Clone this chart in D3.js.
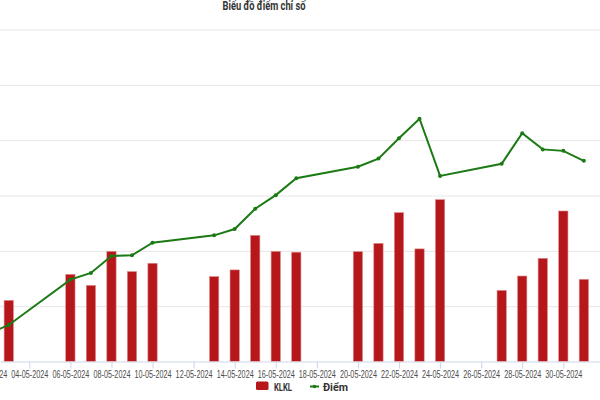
<!DOCTYPE html>
<html>

<style>
body { margin: 0; background: #fff; }
svg { display: block; font-family: "Roboto", "DejaVu Sans Condensed", sans-serif; }
.grid line { stroke: #e6e6e6; stroke-width: 1; }
.grid .domain { display: none; }
.x-axis .domain, .x-axis line { stroke: #ccd6eb; }
.x-axis text { fill: #4d4d4d; font-size: 10px; }
.bar { fill: #b5171b; stroke: #e08a8a; stroke-width: 0.6; }
.line { fill: none; stroke: #1b7a14; stroke-width: 2; }
.dot { fill: #1b7a14; }
</style>

<head>
  <script src="https://d3js.org/d3.v7.min.js"></script>
</head>

<body>

<div id="chart"></div>

<script>
// trading days in May 2024
var dates = ["2024-05-02", "2024-05-03", "2024-05-06", "2024-05-07", "2024-05-08",
  "2024-05-09", "2024-05-10", "2024-05-13", "2024-05-14", "2024-05-15",
  "2024-05-16", "2024-05-17", "2024-05-20", "2024-05-21", "2024-05-22",
  "2024-05-23", "2024-05-24", "2024-05-27", "2024-05-28", "2024-05-29",
  "2024-05-30", "2024-05-31"];

// KLKL (khoi luong khop lenh)
var klkl = [210, 221, 315, 275, 398, 325, 355, 307, 331, 456, 398, 395,
  397, 427, 538, 407, 585, 257, 309, 373, 544, 297];

// Diem chi so
var diem = [1222.5, 1224.9, 1237.2, 1239.0, 1243.6, 1243.8, 1247.2, 1249.2,
  1250.9, 1256.4, 1260.1, 1264.7, 1267.8, 1270.0, 1275.5, 1280.8, 1265.3,
  1268.6, 1276.9, 1272.5, 1272.1, 1269.4];

var tickDates = ["2024-05-02", "2024-05-04", "2024-05-06", "2024-05-08", "2024-05-10",
  "2024-05-12", "2024-05-14", "2024-05-16", "2024-05-18", "2024-05-20",
  "2024-05-22", "2024-05-24", "2024-05-26", "2024-05-28", "2024-05-30"];

var volTicks = [0, 200, 400, 600, 800, 1000, 1200];
var diemDomain = [1215, 1305];

var W = 600, H = 400;
var plotTop = 29.5, plotBottom = 361.5;

var parse = d3.utcParse("%Y-%m-%d");
var fmt = d3.utcFormat("%d-%m-%Y");

var data = dates.map(function(d, i) {
  return { date: parse(d), klkl: klkl[i], diem: diem[i] };
});

var svg = d3.select("#chart")
  .append("svg")
    .attr("width", W)
    .attr("height", H);

// x: the visible window starts a bit after 02-05 and ends after 31-05
var x = d3.scaleUtc()
    .domain([parse("2024-05-04"), parse("2024-05-30")])
    .range([29.3, 563.3]);
x.domain([x.invert(0), x.invert(W)]).range([0, W]);

var yVol = d3.scaleLinear()
    .domain([0, 1200])
    .range([plotBottom, plotTop]);

var yDiem = d3.scaleLinear()
    .domain(diemDomain)
    .range([plotBottom, plotTop]);

svg.append("defs").append("clipPath")
    .attr("id", "plot")
  .append("rect")
    .attr("x", 0).attr("y", 0)
    .attr("width", W).attr("height", plotBottom + 1);

// gridlines
svg.append("g")
    .attr("class", "grid")
    .call(d3.axisLeft(yVol).tickValues(volTicks.slice(1)).tickSize(-W).tickFormat(""));

// bars
var bw = 9.3;
svg.append("g")
    .attr("clip-path", "url(#plot)")
  .selectAll(".bar")
    .data(data)
  .enter().append("rect")
    .attr("class", "bar")
    .attr("x", function(d) { return x(d.date) - bw / 2; })
    .attr("y", function(d) { return yVol(d.klkl); })
    .attr("width", bw)
    .attr("height", function(d) { return plotBottom - yVol(d.klkl); });

// x axis
svg.append("g")
    .attr("class", "x-axis")
    .attr("transform", "translate(0," + plotBottom + ")")
    .call(d3.axisBottom(x)
      .tickValues(tickDates.map(parse))
      .tickSize(7)
      .tickSizeOuter(0)
      .tickPadding(2)
      .tickFormat(fmt))
  .selectAll("text")
    .attr("textLength", 37)
    .attr("lengthAdjust", "spacingAndGlyphs");

// line
var line = d3.line()
    .x(function(d) { return x(d.date); })
    .y(function(d) { return yDiem(d.diem); });

var gl = svg.append("g").attr("clip-path", "url(#plot)");

gl.append("path")
    .datum(data)
    .attr("class", "line")
    .attr("d", line);

gl.selectAll(".dot")
    .data(data)
  .enter().append("circle")
    .attr("class", "dot")
    .attr("cx", function(d) { return x(d.date); })
    .attr("cy", function(d) { return yDiem(d.diem); })
    .attr("r", 2);

// title
svg.append("text")
    .attr("x", 264)
    .attr("y", 9.5)
    .attr("text-anchor", "middle")
    .attr("fill", "#333")
    .attr("textLength", 83)
    .attr("lengthAdjust", "spacingAndGlyphs")
    .style("font-size", "13px")
    .style("font-weight", "bold")
    .text("Biểu đồ điểm chỉ số");

// legend
var lg = svg.append("g").attr("transform", "translate(256,386)");
lg.append("rect")
    .attr("x", 0).attr("y", -4.5)
    .attr("width", 12.5).attr("height", 8.5)
    .attr("rx", 1.5)
    .attr("fill", "#b5171b");
lg.append("text")
    .attr("x", 18).attr("y", 4.5)
    .attr("fill", "#333")
    .attr("textLength", 18)
    .attr("lengthAdjust", "spacingAndGlyphs")
    .style("font-size", "11px")
    .style("font-weight", "bold")
    .text("KLKL");
lg.append("line")
    .attr("x1", 54).attr("x2", 63).attr("y1", 0.5).attr("y2", 0.5)
    .attr("stroke", "#1b7a14").attr("stroke-width", 2);
lg.append("circle")
    .attr("cx", 58.5).attr("cy", 0.5).attr("r", 1.8)
    .attr("fill", "#1b7a14");
lg.append("text")
    .attr("x", 67).attr("y", 4.5)
    .attr("fill", "#333")
    .attr("textLength", 25)
    .attr("lengthAdjust", "spacingAndGlyphs")
    .style("font-size", "11px")
    .style("font-weight", "bold")
    .text("Điểm");
</script>
</body>
</html>
